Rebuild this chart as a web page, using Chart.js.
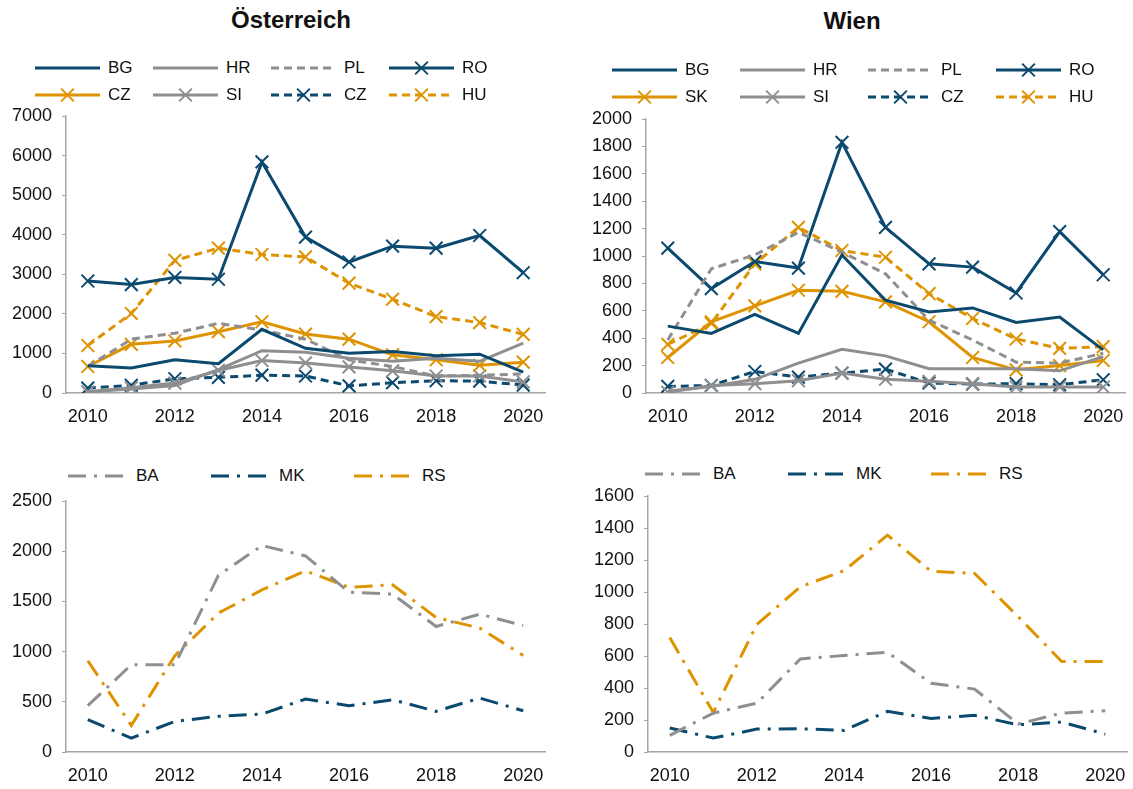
<!DOCTYPE html>
<html>
<head>
<meta charset="utf-8">
<script src="https://cdn.jsdelivr.net/npm/chart.js@4.4.1/dist/chart.umd.min.js"></script>
<style>
  body { margin: 0; background: #fff; font-family: "Liberation Sans", Arial, sans-serif; color: #111; }
  #wrap { position: relative; width: 1133px; height: 789px; overflow: hidden; }
  .title { position: absolute; font-weight: bold; font-size: 24px; text-align: center; width: 400px; }
  .legend { position: absolute; }
  .row { display: flex; height: 27px; align-items: center; }
  .item { display: flex; align-items: center; font-size: 17px; }
  .item span { margin-left: 8px; }
  .box { position: absolute; }
</style>
</head>
<body>
<div id="wrap">
  <div class="title" style="left:91px;top:6px">Österreich</div>
  <div class="title" style="left:652px;top:7px">Wien</div>
  <div class="legend" id="leg1" style="left:35px;top:54px"></div>
  <div class="legend" id="leg2" style="left:612px;top:56px"></div>
  <div class="legend" id="leg3" style="left:68px;top:462px"></div>
  <div class="legend" id="leg4" style="left:645px;top:460px"></div>
  <div class="box" style="left:0;top:105px"><canvas id="c1" width="556" height="320"></canvas></div>
  <div class="box" style="left:580px;top:108px"><canvas id="c2" width="556" height="317"></canvas></div>
  <div class="box" style="left:0;top:491px"><canvas id="c3" width="556" height="293"></canvas></div>
  <div class="box" style="left:582px;top:486px"><canvas id="c4" width="556" height="298"></canvas></div>
</div>
<script>
const years = ['2010', '2011', '2012', '2013', '2014', '2015', '2016', '2017', '2018', '2019', '2020'];

// Österreich, oben
const atBG = [690, 630, 840, 740, 1610, 1130, 1005, 1050, 940, 980, 530];
const atHR = [30, 100, 190, 590, 1070, 1030, 880, 800, 880, 800, 1260];
const atPL = [670, 1360, 1510, 1760, 1590, 1360, 840, 670, 430, 450, 480];
const atRO = [2830, 2740, 2920, 2875, 5840, 3940, 3310, 3710, 3660, 3980, 3040];
const atCZ = [670, 1230, 1315, 1550, 1800, 1490, 1360, 965, 840, 700, 780];
const atSI = [30, 130, 250, 570, 820, 760, 660, 560, 430, 430, 280];
const atCZ2 = [125, 195, 360, 395, 450, 430, 180, 260, 310, 300, 200];
const atHU = [1200, 2010, 3350, 3660, 3500, 3440, 2775, 2370, 1930, 1780, 1480];

// Wien, oben
const wBG = [488, 435, 573, 435, 1008, 677, 592, 621, 515, 554, 315];
const wHR = [12, 48, 100, 218, 319, 271, 177, 177, 177, 162, 266];
const wPL = [387, 907, 1008, 1173, 1028, 870, 532, 387, 225, 218, 290];
const wRO = [1057, 762, 960, 912, 1830, 1209, 943, 919, 730, 1178, 863];
const wSK = [259, 520, 636, 750, 742, 665, 520, 259, 169, 200, 237];
const wSI = [5, 55, 68, 90, 145, 100, 85, 68, 44, 44, 44];
const wCZ = [48, 55, 157, 116, 145, 174, 73, 65, 68, 60, 97];
const wHU = [355, 508, 943, 1209, 1040, 991, 725, 544, 394, 326, 338];

// unten
const atBA = [461, 869, 869, 1760, 2056, 1953, 1592, 1572, 1250, 1373, 1260];
const atMK = [322, 139, 305, 355, 378, 527, 461, 520, 405, 537, 411];
const atRS = [909, 265, 960, 1383, 1615, 1804, 1641, 1665, 1340, 1234, 962];
const wBA = [104, 243, 305, 582, 603, 623, 430, 393, 175, 243, 258];
const wMK = [150, 87, 143, 145, 135, 254, 210, 229, 170, 187, 112];
const wRS = [715, 247, 798, 1033, 1133, 1355, 1130, 1116, 846, 565, 565];

// y-Achsen: max, Schritt
const yAxisTop1 = [7000, 1000];
const yAxisTop2 = [2000, 200];
const yAxisBot1 = [2500, 500];
const yAxisBot2 = [1600, 200];

const navy = '#0b4a6e';
const orange = '#de9300';
const gray = '#8f8f91';
const dash = [8, 5];
const dashDot = [18, 8, 3, 8];

function serie(label, data, color, lineDash, marker) {
    return {
        label: label,
        data: data,
        borderColor: color,
        backgroundColor: color,
        borderWidth: 3,
        borderDash: lineDash,
        pointStyle: 'crossRot',
        pointRadius: marker ? 9 : 0,
        pointHoverRadius: marker ? 9 : 0,
        pointBorderWidth: 2,
        pointBorderColor: color,
        tension: 0,
        fill: false
    };
}

const setsAT = [
    serie('BG', atBG, navy, [], false),
    serie('HR', atHR, gray, [], false),
    serie('PL', atPL, gray, dash, false),
    serie('RO', atRO, navy, [], true),
    serie('CZ', atCZ, orange, [], true),
    serie('SI', atSI, gray, [], true),
    serie('CZ', atCZ2, navy, dash, true),
    serie('HU', atHU, orange, dash, true)
];
const setsW = [
    serie('BG', wBG, navy, [], false),
    serie('HR', wHR, gray, [], false),
    serie('PL', wPL, gray, dash, false),
    serie('RO', wRO, navy, [], true),
    serie('SK', wSK, orange, [], true),
    serie('SI', wSI, gray, [], true),
    serie('CZ', wCZ, navy, dash, true),
    serie('HU', wHU, orange, dash, true)
];
const setsAT2 = [
    serie('BA', atBA, gray, dashDot, false),
    serie('MK', atMK, navy, dashDot, false),
    serie('RS', atRS, orange, dashDot, false)
];
const setsW2 = [
    serie('BA', wBA, gray, dashDot, false),
    serie('MK', wMK, navy, dashDot, false),
    serie('RS', wRS, orange, dashDot, false)
];

const tickFont = { family: '"Liberation Sans", Arial, sans-serif', size: 18 };

function zeichne(id, datasets, yAxis) {
    new Chart(document.getElementById(id), {
        type: 'line',
        data: { labels: years, datasets: datasets },
        options: {
            responsive: false,
            animation: false,
            layout: { padding: { top: 10, right: 11, left: 0, bottom: 0 } },
            plugins: { legend: { display: false }, tooltip: { enabled: false } },
            scales: {
                x: {
                    offset: true,
                    grid: { display: false },
                    border: { color: '#a6a6a6', width: 1.5 },
                    ticks: {
                        color: '#111', font: tickFont, autoSkip: false, maxRotation: 0, padding: 5,
                        callback: (v, i) => (i % 2 === 0 ? years[i] : '')
                    },
                    afterFit: s => { s.height = 32; s.paddingLeft = 0; s.paddingRight = 0; }
                },
                y: {
                    min: 0,
                    max: yAxis[0],
                    grid: { drawOnChartArea: false, drawTicks: true, tickLength: 4, color: '#a6a6a6' },
                    border: { color: '#a6a6a6', width: 1.5 },
                    ticks: { stepSize: yAxis[1], color: '#111', font: tickFont, padding: 10, callback: v => String(v) },
                    afterFit: s => { s.width = 66; s.paddingTop = 0; s.paddingBottom = 0; }
                }
            }
        }
    });
}

zeichne('c1', setsAT, yAxisTop1);
zeichne('c2', setsW, yAxisTop2);
zeichne('c3', setsAT2, yAxisBot1);
zeichne('c4', setsW2, yAxisBot2);

// Legende: Linienmuster wie im Diagramm
function legende(id, datasets, perRow, itemWidth, sampleWidth) {
    const box = document.getElementById(id);
    let row;
    datasets.forEach((d, i) => {
        if (i % perRow === 0) {
            row = document.createElement('div');
            row.className = 'row';
            box.appendChild(row);
        }
        const item = document.createElement('div');
        item.className = 'item';
        item.style.width = itemWidth + 'px';
        const cv = document.createElement('canvas');
        cv.width = sampleWidth;
        cv.height = 20;
        const ctx = cv.getContext('2d');
        ctx.strokeStyle = d.borderColor;
        ctx.lineWidth = 3;
        ctx.setLineDash(d.borderDash);
        ctx.beginPath();
        ctx.moveTo(0, 10);
        ctx.lineTo(sampleWidth, 10);
        ctx.stroke();
        if (d.pointRadius > 0) {
            const r = d.pointRadius * Math.SQRT1_2;
            const m = sampleWidth / 2;
            ctx.setLineDash([]);
            ctx.lineWidth = 2;
            ctx.beginPath();
            ctx.moveTo(m - r, 10 - r); ctx.lineTo(m + r, 10 + r);
            ctx.moveTo(m - r, 10 + r); ctx.lineTo(m + r, 10 - r);
            ctx.stroke();
        }
        const t = document.createElement('span');
        t.textContent = d.label;
        item.appendChild(cv);
        item.appendChild(t);
        row.appendChild(item);
    });
}

legende('leg1', setsAT, 4, 118, 65);
legende('leg2', setsW, 4, 128, 65);
legende('leg3', setsAT2, 3, 143, 60);
legende('leg4', setsW2, 3, 143, 60);
</script>
</body>
</html>
